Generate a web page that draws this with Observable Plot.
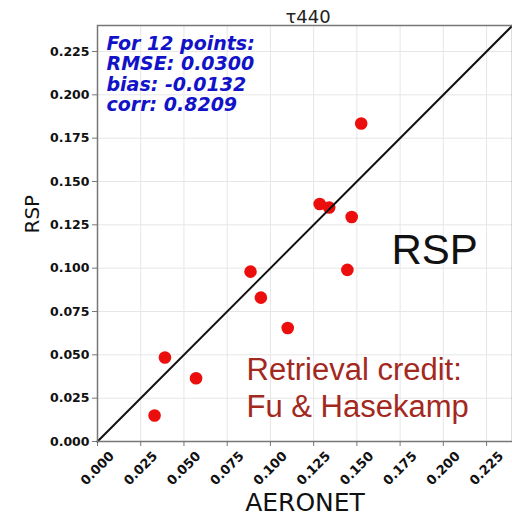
<!DOCTYPE html>
<html><head><meta charset="utf-8">
<script src="https://cdn.jsdelivr.net/npm/d3@7"></script>
<script src="https://cdn.jsdelivr.net/npm/@observablehq/plot@0.6"></script>
<style>body{margin:0;background:#fff}</style>
</head><body><div id="chart"></div>
<script>
// AERONET vs RSP AOD at 440 nm
const aeronet = [0.033, 0.039, 0.057, 0.0885, 0.0945, 0.110, 0.1285, 0.134, 0.147, 0.1445, 0.1525];
const rsp     = [0.015, 0.0485, 0.0365, 0.098, 0.083, 0.0655, 0.137, 0.135, 0.1295, 0.099, 0.1835];
const ticks = [0, 0.025, 0.05, 0.075, 0.1, 0.125, 0.15, 0.175, 0.2, 0.225];
const domain = [0, 0.24];
const title = "τ440";
const xLabel = "AERONET";
const yLabel = "RSP";
const statsLines = ["For 12 points:", "RMSE: 0.0300", "bias: -0.0132", "corr: 0.8209"];
const bigLabel = "RSP";
const creditLines = ["Retrieval credit:", "Fu & Hasekamp"];

const points = aeronet.map((a, i) => ({aeronet: a, rsp: rsp[i]}));
const diag = domain.map(v => ({v}));
const fmt = d3.format(".3f");

const chart = Plot.plot({
  width: 512, height: 515,
  marginLeft: 97, marginRight: 0, marginTop: 25, marginBottom: 74,
  x: {domain}, y: {domain},
  style: {fontFamily: "DejaVu Sans", background: "#fff", overflow: "hidden"},
  marks: [
    Plot.gridX(ticks, {stroke: "#e6e6e6", strokeOpacity: 1}),
    Plot.gridY(ticks, {stroke: "#e6e6e6", strokeOpacity: 1}),
    Plot.axisY(ticks, {label: null, tickFormat: fmt, tickSize: 5, tickPadding: 3,
      fontWeight: "bold", fontSize: 12.5, stroke: "#777", fill: "#111"}),
    Plot.axisX(ticks, {label: null, tickFormat: fmt, tickSize: 5, tickPadding: 22,
      tickRotate: -45, textAnchor: "middle", lineAnchor: "middle",
      fontWeight: "bold", fontSize: 13, stroke: "#777", fill: "#111"}),
    Plot.dot(points, {x: "aeronet", y: "rsp", r: 6.3, fill: "#ec0d0d"}),
    Plot.line(diag, {x: "v", y: "v", stroke: "#111", strokeWidth: 2}),
    Plot.frame({stroke: "#777", strokeWidth: 1.5}),
    Plot.text([statsLines.join("\n")], {text: d => d, frameAnchor: "top-left", dx: 9, dy: 10,
      lineAnchor: "top", textAnchor: "start", fill: "#1212c8", fontSize: 19,
      fontWeight: "bold", fontStyle: "italic", lineHeight: 1.07}),
    Plot.text([bigLabel], {text: d => d, frameAnchor: "top-left", dx: 294, dy: 238,
      lineAnchor: "bottom", textAnchor: "start", fill: "#111", fontSize: 42,
      fontFamily: "Liberation Sans"}),
    Plot.text([creditLines.join("\n")], {text: d => d, frameAnchor: "top-left", dx: 149, dy: 391,
      lineAnchor: "bottom", textAnchor: "start", fill: "#a3281e", fontSize: 31,
      fontFamily: "Liberation Sans", lineHeight: 1.19}),
    Plot.text([title], {text: d => d, frameAnchor: "top", dx: 3, dy: -3,
      lineAnchor: "bottom", fill: "#222", fontSize: 18}),
    Plot.text([xLabel], {text: d => d, frameAnchor: "bottom", dy: 69,
      lineAnchor: "bottom", fill: "#111", fontSize: 25}),
    Plot.text([yLabel], {text: d => d, frameAnchor: "left", dx: -59, rotate: -90,
      lineAnchor: "bottom", fill: "#111", fontSize: 20})
  ]
});
document.getElementById("chart").appendChild(chart);
</script></body></html>
